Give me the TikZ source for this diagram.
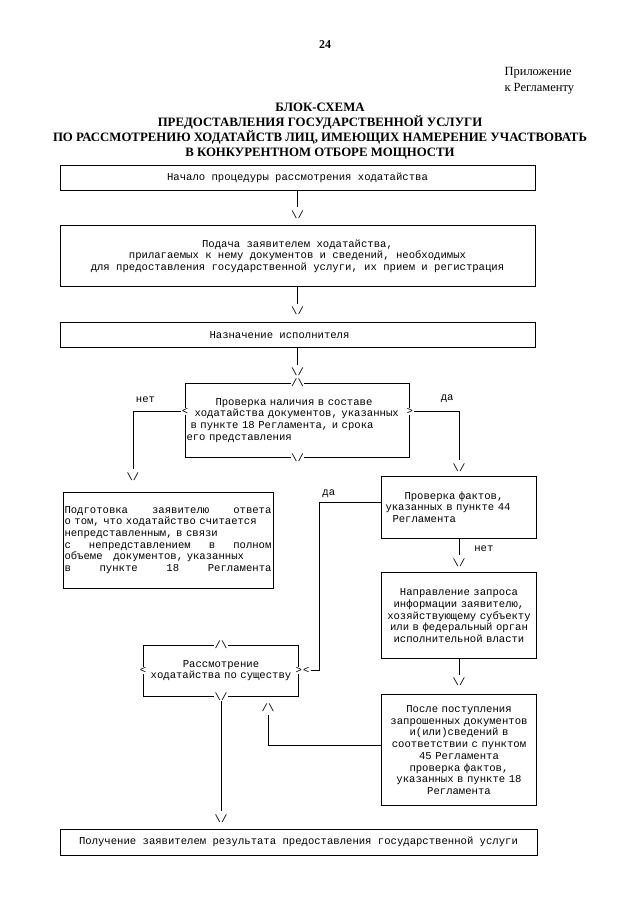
\documentclass[tikz,border=0pt]{standalone}
\usepackage{fontspec}
\setmainfont{Liberation Serif}
\setmonofont{Liberation Mono}
\usetikzlibrary{positioning}

\newcommand\blkfont{\ttfamily\fontsize{10.6}{11.7}\selectfont}

\begin{document}
\begin{tikzpicture}[
        x=1pt, y=-1pt,
        node distance=35pt,
        blk/.style={draw=black, line width=0.8pt, font=\blkfont, inner xsep=2pt, inner ysep=2pt},
        widebox/.style={blk, minimum width=475pt, align=center},
        colbox/.style={blk, text width=151pt, align=center},
        choice/.style={blk, inner xsep=1pt, text width=222pt, align=left, minimum height=74pt},
        glyph/.style={fill=white, inner sep=0.5pt, font=\blkfont},
        vtip/.style={font=\blkfont, inner xsep=0pt, inner ysep=3pt},
        lbl/.style={font=\blkfont, inner sep=1pt},
        flow/.style={line width=0.7pt},
        head/.style={font=\fontsize{12.8}{15}\selectfont\bfseries, align=center},
    ]
    \useasboundingbox (0,0) rectangle (640,905);

    % Header
    \node[font=\fontsize{12}{14}\selectfont\bfseries] (page) at (325,45) {24};
    \node[font=\fontsize{12.5}{16}\selectfont, align=left, anchor=west] (annex) at (501,81) {Приложение\\к Регламенту};
    \node[head] (title) at (320,131.5) {БЛОК-СХЕМА\\ПРЕДОСТАВЛЕНИЯ ГОСУДАРСТВЕННОЙ УСЛУГИ\\ПО РАССМОТРЕНИЮ ХОДАТАЙСТВ ЛИЦ, ИМЕЮЩИХ НАМЕРЕНИЕ УЧАСТВОВАТЬ\\В КОНКУРЕНТНОМ ОТБОРЕ МОЩНОСТИ};

    % Main column
    \node[widebox, minimum height=25pt] (start) at (297.5,177.5) {Начало процедуры рассмотрения ходатайства};
    \node[widebox, minimum height=61pt, below=of start] (submit) {Подача заявителем ходатайства,\\прилагаемых к нему документов и сведений, необходимых\\для предоставления государственной услуги, их прием и регистрация};
    \node[widebox, minimum height=25pt, below=of submit] (assign) {Назначение исполнителя\hspace*{36pt}};
    \node[choice, below=of assign] (check) {\hspace*{29pt}Проверка наличия в составе\\\hspace*{8pt}ходатайства документов, указанных\\\hspace*{4pt}в пункте 18 Регламента, и срока\\его представления};

    % Branch "нет"
    \node[blk, inner xsep=1.5pt, text width=207pt, align=left, minimum height=96pt] (refuse) at (168,540) {\makebox[\linewidth][l]{Подготовка\hfill заявителю\hfill ответа}\\о том, что ходатайство считается\\непредставленным, в связи\\\makebox[\linewidth][l]{с\hfill непредставлением\hfill в\hfill полном}\\объеме\ \ \ документов, указанных\\\makebox[\linewidth][l]{в\hfill пункте\hfill 18\hfill Регламента}};

    % Branch "да"
    \node[blk, text width=151pt, align=left, minimum height=62pt] (facts) at (459,507) {\hspace*{21pt}Проверка фактов,\\\hspace*{2pt}указанных в пункте 44\\\hspace*{9pt}Регламента};
    \node[colbox, minimum height=86pt, below=34pt of facts] (request) {Направление запроса\\информации заявителю,\\хозяйствующему субъекту\\или в федеральный орган\\исполнительной власти};
    \node[colbox, minimum height=111pt, below=of request] (after) {После поступления\\запрошенных документов\\и(или)сведений в\\соответствии с пунктом\\45 Регламента\hspace*{22pt}\\проверка фактов,\\указанных в пункте 18\\Регламента};

    % Review and result
    \node[colbox, minimum height=51pt] (review) at (221,670.5) {Рассмотрение\\ходатайства по существу};
    \node[widebox, minimum width=477pt, minimum height=26pt] (result) at (298.5,842) {Получение заявителем результата предоставления государственной услуги};

    % Typed arrow heads
    \node[vtip, above=4pt of submit] (tip-submit) {\textbackslash/};
    \node[vtip, above=4pt of assign] (tip-assign) {\textbackslash/};
    \node[vtip, above=4pt of check.north] (tip-check) {\textbackslash/};
    \node[vtip, above=8pt of refuse.north, xshift=-35pt] (tip-refuse) {\textbackslash/};
    \node[vtip, above=1pt of facts] (tip-facts) {\textbackslash/};
    \node[vtip, above=3pt of request] (tip-request) {\textbackslash/};
    \node[vtip, above=5pt of after] (tip-after) {\textbackslash/};
    \node[vtip, inner xsep=1pt, anchor=west] (tip-review) at ([xshift=3pt]review.east) {<};
    \node[vtip, below=4pt of review.south, xshift=47pt] (tip-back) {/\textbackslash};
    \node[vtip, above=3pt of result.north -| review.south] (tip-result) {\textbackslash/};

    % Connectors
    \draw[flow] (start) -- (tip-submit);
    \draw[flow] (submit) -- (tip-assign);
    \draw[flow] (assign) -- (tip-check);
    \draw[flow] ([yshift=9pt]check.west) -| node[lbl, above=7pt, pos=0.38] (no1) {нет} (tip-refuse);
    \draw[flow] ([yshift=9pt]check.east) -| node[lbl, above=7pt, pos=0.38] (yes1) {да} (tip-facts);
    \draw[flow] (facts) -- node[lbl, right=14pt, pos=0.6] (no2) {нет} (tip-request);
    \draw[flow] (request) -- (tip-after);
    \draw[flow] ([yshift=5pt]facts.west) -| node[lbl, above=3pt, pos=0.42] (yes2) {да} ([xshift=20pt]review.east) -- (tip-review);
    \draw[flow] ([yshift=5pt]after.west) -| (tip-back);
    \draw[flow] (review.south) -- (tip-result);

    % Diamond marks
    \node[glyph] (check-n) at (check.north) {/\textbackslash};
    \node[glyph] (check-s) at (check.south) {\textbackslash/};
    \node[glyph] (check-w) at ([yshift=9pt]check.west) {<};
    \node[glyph] (check-e) at ([yshift=9pt]check.east) {>};
    \node[glyph] (review-n) at (review.north) {/\textbackslash};
    \node[glyph] (review-s) at (review.south) {\textbackslash/};
    \node[glyph] (review-w) at (review.west) {<};
    \node[glyph] (review-e) at (review.east) {>};
\end{tikzpicture}
\end{document}
